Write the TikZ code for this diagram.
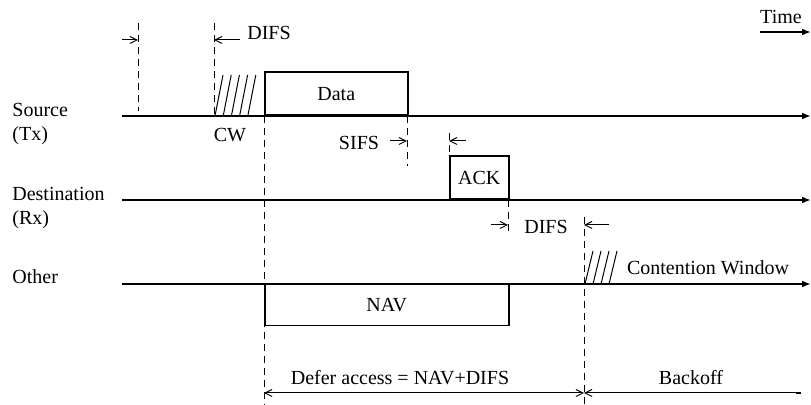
\documentclass[tikz,border=0pt]{standalone}
\usepackage{fontspec}
\setmainfont{Liberation Serif}
\usetikzlibrary{arrows.meta}
\begin{document}
\begin{tikzpicture}[x=0.5pt,y=-0.5pt,
  lbl/.style={font=\fontsize{10}{12}\selectfont, inner sep=0pt},
  axis/.style={line width=1pt, -{Latex[length=4.5pt,width=3.5pt]}},
  frame/.style={draw, line width=0.75pt, inner sep=0pt, font=\fontsize{10}{12}\selectfont},
  guide/.style={line width=0.5pt, dash pattern=on 3.5pt off 2.5pt},
  gap/.style={line width=0.5pt, -{Straight Barb[length=3.5pt,width=3.5pt]}},
  span/.style={line width=0.5pt, {Straight Barb[length=3.5pt,width=3.5pt]}-{Straight Barb[length=3.5pt,width=3.5pt]}},
  hatch/.style={line width=0.5pt}]
\useasboundingbox (0,0) rectangle (811,405);

% time axes
\coordinate (s0) at (122,116); \coordinate (s1) at (811,116);
\coordinate (d0) at (122,200); \coordinate (d1) at (811,200);
\coordinate (o0) at (122,284); \coordinate (o1) at (811,284);
\draw[axis] (s0) -- (s1);
\draw[axis] (d0) -- (d1);
\draw[axis] (o0) -- (o1);

% Time
\node[lbl] (time) at (781,17) {Time};
\coordinate (t0) at (760,32); \coordinate (t1) at (811,32);
\draw[axis] (t0) -- (t1);

% station labels
\node[lbl, anchor=base west] (src) at (12,116.5) {Source};
\node[lbl, anchor=base west] (tx) at (12,140.5) {(Tx)};
\node[lbl, anchor=base west] (dst) at (12,200.5) {Destination};
\node[lbl, anchor=base west] (rx) at (12,225) {(Rx)};
\node[lbl, anchor=base west] (oth) at (12,283.5) {Other};

% frames
\node[frame, anchor=south west, minimum width=71.5pt, minimum height=21.5pt] (data) at (264,116) {Data};
\node[frame, anchor=south west, minimum width=29.5pt, minimum height=21.5pt] (ack) at (449,200) {ACK};
\node[frame, anchor=north west, minimum width=122pt, minimum height=20.5pt] (nav) at (264,284) {NAV};

% guide lines
\coordinate (g1a) at (138,23);  \coordinate (g1b) at (138,111);
\coordinate (g2a) at (214,23);  \coordinate (g2b) at (214,116);
\coordinate (g3a) at (264,116); \coordinate (g3b) at (264,405);
\coordinate (g4a) at (407,116); \coordinate (g4b) at (407,166);
\coordinate (g5a) at (449,133); \coordinate (g5b) at (449,157);
\coordinate (g6a) at (508,200); \coordinate (g6b) at (508,233);
\coordinate (g7a) at (584,217); \coordinate (g7b) at (584,405);
\foreach \g in {1,...,7} {\draw[guide] (g\g a) -- (g\g b);}

% interval markers
\coordinate (a1) at (122,40);  \coordinate (a1e) at (138,40);
\coordinate (a2) at (240,40);  \coordinate (a2e) at (214,40);
\coordinate (a3) at (390,141); \coordinate (a3e) at (407,141);
\coordinate (a4) at (466,141); \coordinate (a4e) at (449,141);
\coordinate (a5) at (491,225); \coordinate (a5e) at (508,225);
\coordinate (a6) at (609,225); \coordinate (a6e) at (584,225);
\foreach \a in {1,...,6} {\draw[gap] (a\a) -- (a\a e);}

\node[lbl] (difs1) at (269,33) {DIFS};
\node[lbl] (cw) at (230,135) {CW};
\node[lbl] (sifs) at (359,143) {SIFS};
\node[lbl] (difs2) at (546,227) {DIFS};
\node[lbl] (cwin) at (708,268) {Contention Window};

% contention window hatching
\foreach \k in {0,...,4} {\draw[hatch] (215+8.2*\k,116) -- (223+8.2*\k,75);}
\foreach \k in {0,...,3} {\draw[hatch] (585+8*\k,284) -- (593+8*\k,251);}

% defer / backoff
\coordinate (b0) at (264,393); \coordinate (b1) at (584,393); \coordinate (b2) at (801,393);
\draw[span] (b0) -- (b1);
\draw[line width=0.5pt, {Straight Barb[length=3.5pt,width=3.5pt]}-{Rectangle[length=2.5pt,width=1.2pt]}] (b1) -- (b2);
\node[lbl] (defer) at (400,378) {Defer access = NAV+DIFS};
\node[lbl] (backoff) at (691,378) {Backoff};
\end{tikzpicture}
\end{document}
